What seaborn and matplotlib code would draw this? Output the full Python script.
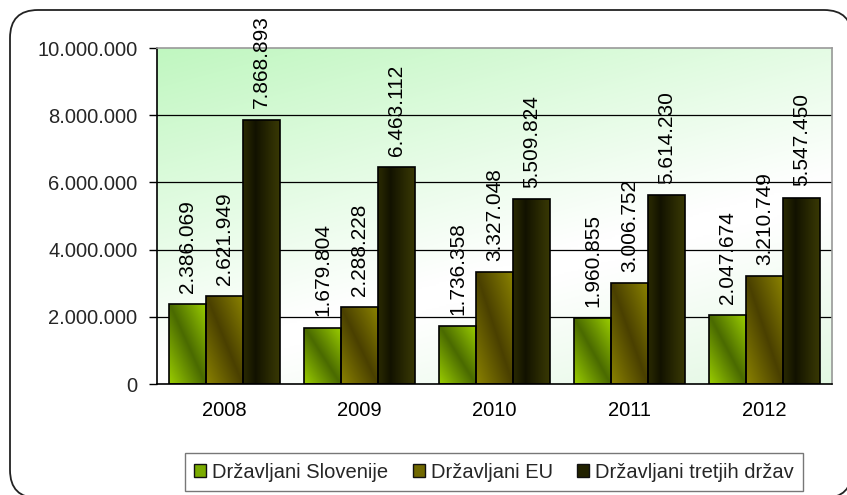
import numpy as np
import pandas as pd
import matplotlib
matplotlib.use("Agg")
import matplotlib.pyplot as plt
import seaborn as sns
from matplotlib.patches import FancyBboxPatch, Patch
from matplotlib.colors import LinearSegmentedColormap, to_rgb
from matplotlib.transforms import IdentityTransform

years = ["2008", "2009", "2010", "2011", "2012"]
series_names = ["Državljani Slovenije", "Državljani EU", "Državljani tretjih držav"]
slovenija = [2386069, 1679804, 1736358, 1960855, 2047674]
eu = [2621949, 2288228, 3327048, 3006752, 3210749]
tretje = [7868893, 6463112, 5509824, 5614230, 5547450]
ytick_values = [0, 2000000, 4000000, 6000000, 8000000, 10000000]
ytick_labels = ["0", "2.000.000", "4.000.000", "6.000.000", "8.000.000", "10.000.000"]

rows = []
for name, vals in zip(series_names, [slovenija, eu, tretje]):
    for y, v in zip(years, vals):
        rows.append({"Leto": y, "Serija": name, "Vrednost": v})
df = pd.DataFrame(rows)

sns.set_theme(style="white")
plt.rcParams["font.family"] = ["Liberation Sans", "DejaVu Sans"]

W_PX, H_PX = 847, 495
fig = plt.figure(figsize=(8.47, 4.95), dpi=100)
ax = fig.add_axes([157 / W_PX, 1 - 384 / H_PX, (832 - 157) / W_PX, (384 - 48) / H_PX])

# outer rounded border (pixel coordinates, origin bottom-left)
border = FancyBboxPatch((10, -3), 842, 488,
                        boxstyle="round,pad=0,rounding_size=28",
                        transform=IdentityTransform(), facecolor="white",
                        edgecolor="#222222", linewidth=1.3, zorder=-10)
fig.patches.append(border)

base_colors = ["#8cbf00", "#757000", "#252500"]
sns.barplot(data=df, x="Leto", y="Vrednost", hue="Serija", hue_order=series_names,
            palette=base_colors, width=0.82, edgecolor="black", linewidth=1.2,
            ax=ax, legend=False, zorder=3)

# plot background gradient
H, W = 200, 200
u = np.linspace(0, 1, W)[None, :]
v = np.linspace(1, 0, H)[:, None]
d = (u * 0.7 + (1 - v) * 1.3) / 2
green = np.array(to_rgb("#c0f7c0"))
green2 = np.array(to_rgb("#e2f8e2"))
white = np.array([1.0, 1.0, 1.0])
f = np.clip(d / 0.6, 0, 1)[..., None]
img = green * (1 - f) + white * f
g2 = np.clip((d - 0.65) / 0.35, 0, 1)[..., None]
img = img * (1 - g2) + green2 * g2
ax.imshow(img, extent=[0, 1, 0, 1], transform=ax.transAxes, aspect="auto",
          zorder=0, interpolation="bilinear")

# gradient fills for bars
cmaps = [
    LinearSegmentedColormap.from_list("slo", ["#9acd00", "#4a6a00", "#9acd00"]),
    LinearSegmentedColormap.from_list("eu", ["#8a8200", "#4a4000", "#8a8200"]),
    LinearSegmentedColormap.from_list("tr", ["#2a2a02", "#121200", "#262602", "#383804"]),
]
n_years = len(years)
for i, patch in enumerate(ax.patches[: 3 * n_years]):
    s = i // n_years
    x0, y0 = patch.get_x(), patch.get_y()
    w, h = patch.get_width(), patch.get_height()
    gw, gh = 40, 80
    uu = np.linspace(0, 1, gw)[None, :]
    vv = np.linspace(1, 0, gh)[:, None]
    if s < 2:
        t = (uu + vv) / 2 * np.ones((gh, gw))
    else:
        t = uu * np.ones((gh, gw))
    im = ax.imshow(t, cmap=cmaps[s], vmin=0, vmax=1, extent=[x0, x0 + w, y0, y0 + h],
                   aspect="auto", zorder=2.5, interpolation="bilinear")
    im.set_clip_path(patch)
    patch.set_facecolor("none")
    patch.set_zorder(3)

ax.set_xlim(-0.5, 4.5)
ax.set_ylim(0, 10000000)
ax.set_yticks(ytick_values)
ax.set_yticklabels(ytick_labels, fontsize=14.5)
ax.set_xticks(range(n_years))
ax.set_xticklabels(years, fontsize=14.5)
ax.set_xticks(np.arange(-0.5, n_years, 1.0), minor=True)
ax.tick_params(axis="x", which="major", length=0, pad=12, colors="black")
ax.tick_params(axis="x", which="minor", length=6, width=1, color="black", direction="out")
ax.tick_params(axis="y", length=6, width=1, color="black", direction="out", left=True, pad=8)
ax.set_xlabel("")
ax.set_ylabel("")

for yv in ytick_values[1:-1]:
    ax.axhline(yv, color="black", linewidth=0.9, zorder=1)

for side in ["top", "right"]:
    ax.spines[side].set_color("#999999")
    ax.spines[side].set_linewidth(1.2)
for side in ["left", "bottom"]:
    ax.spines[side].set_color("black")
    ax.spines[side].set_linewidth(1.2)
for sp in ax.spines.values():
    sp.set_visible(True)
    sp.set_zorder(5)

# data labels
for patch in ax.patches[: 3 * n_years]:
    val = patch.get_height()
    txt = f"{int(round(val)):,}".replace(",", ".")
    ax.annotate(txt, (patch.get_x() + patch.get_width() / 2, val),
                xytext=(0, 8), textcoords="offset points", rotation=90,
                ha="center", va="bottom", fontsize=15, color="black",
                annotation_clip=False, zorder=6)

handles = [Patch(facecolor=c, edgecolor="#111111", linewidth=1.0)
           for c in ["#7aab00", "#706800", "#222200"]]
leg = fig.legend(handles, series_names, loc="center",
                 bbox_to_anchor=(494 / W_PX, 1 - 472 / H_PX),
                 ncol=3, fontsize=14.5, frameon=True, fancybox=False, handlelength=0.6,
                 handleheight=0.6, handletextpad=0.3, columnspacing=1.2,
                 borderpad=0.45, borderaxespad=0)
leg.get_frame().set_edgecolor("#555555")
leg.get_frame().set_linewidth(1.0)

fig.savefig("out.png", dpi=100)
